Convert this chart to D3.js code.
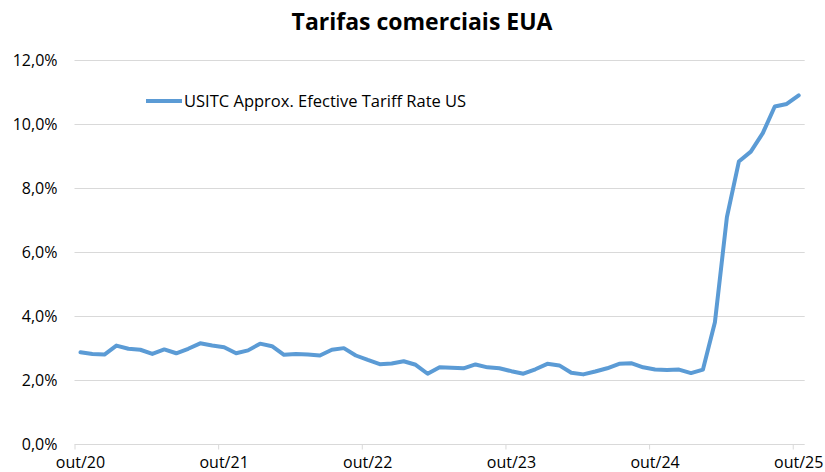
<!DOCTYPE html>
<html>
<head>
<meta charset="utf-8">
<script src="https://cdn.jsdelivr.net/npm/d3@7"></script>
<style>
  body { margin: 0; background: #fff; }
  svg text { font-family: "Open Sans", sans-serif; fill: #000; }
</style>
</head>
<body>
<svg id="chart" width="825" height="472"></svg>
<script>
// monthly values, out/20 .. out/25 (%)
var months = d3.range(61).map(function(i) { return new Date(2020, 9 + i, 1); });
var tariffRate = [
  2.85, 2.80, 2.78, 3.06, 2.96, 2.93, 2.80, 2.94, 2.82, 2.96, 3.13, 3.06,
  3.01, 2.82, 2.91, 3.12, 3.04, 2.77, 2.80, 2.78, 2.75, 2.93, 2.98, 2.75,
  2.61, 2.48, 2.50, 2.57, 2.46, 2.18, 2.38, 2.37, 2.35, 2.47, 2.38, 2.35,
  2.26, 2.18, 2.32, 2.49, 2.44, 2.21, 2.16, 2.25, 2.35, 2.49, 2.51, 2.38,
  2.31, 2.30, 2.31, 2.20, 2.31, 3.79, 7.07, 8.81, 9.12, 9.70, 10.53, 10.61,
  10.88
];
var tickLabels = ["out/20", "out/21", "out/22", "out/23", "out/24", "out/25"];
var yTicks = [0, 2, 4, 6, 8, 10, 12];
var seriesName = "USITC Approx. Efective Tariff Rate US";

var fmt = function(v) { return d3.format(".1f")(v).replace(".", ",") + "%"; };

var svg = d3.select("#chart");

// months as bands: point sits in the middle, tick on the left edge
var x = d3.scaleLinear().domain([0, months.length]).range([74.5, 804.7]);
var y = d3.scaleLinear().domain([0, 12]).range([443.5, 59.5]);

// gridlines
svg.append("g").selectAll("line")
  .data(yTicks.slice(1))
  .enter().append("line")
  .attr("x1", x(0)).attr("x2", x(months.length))
  .attr("y1", function(d) { return Math.round(y(d)) + 0.5; })
  .attr("y2", function(d) { return Math.round(y(d)) + 0.5; })
  .attr("stroke", "#d9d9d9").attr("stroke-width", 1);

// y labels
svg.append("g").selectAll("text")
  .data(yTicks)
  .enter().append("text")
  .attr("x", 57.5)
  .attr("y", function(d) { return y(d) + 6.5; })
  .attr("text-anchor", "end")
  .style("font-size", "16px")
  .text(fmt);

// x axis
var xAxis = d3.axisBottom(x)
  .tickValues([0, 12, 24, 36, 48, 60])
  .tickSize(5)
  .tickFormat("");
var gx = svg.append("g")
  .attr("transform", "translate(0," + (Math.round(y(0)) + 0.5) + ")")
  .call(xAxis);
gx.select(".domain").attr("stroke", "#d9d9d9").attr("d", "M" + x(0) + ",0H" + x(months.length));
gx.selectAll(".tick line").attr("stroke", "#d9d9d9");

svg.append("g").selectAll("text")
  .data(tickLabels)
  .enter().append("text")
  .attr("x", function(d, i) { return x(i * 12 + 0.5); })
  .attr("y", 468)
  .attr("text-anchor", "middle")
  .style("font-size", "16px")
  .text(function(d) { return d; });

// line
var line = d3.line()
  .x(function(d, i) { return x(i + 0.5); })
  .y(function(d) { return y(d); });

svg.append("path")
  .datum(tariffRate)
  .attr("d", line)
  .attr("fill", "none")
  .attr("stroke", "#5b9bd5")
  .attr("stroke-width", 4)
  .attr("stroke-linejoin", "round")
  .attr("stroke-linecap", "round");

// legend
svg.append("line")
  .attr("x1", 146).attr("x2", 182)
  .attr("y1", 101).attr("y2", 101)
  .attr("stroke", "#5b9bd5").attr("stroke-width", 4);
svg.append("text")
  .attr("x", 184)
  .attr("y", 106.5)
  .style("font-size", "16.5px")
  .text(seriesName);

// title
svg.append("text")
  .attr("x", 422)
  .attr("y", 30)
  .attr("text-anchor", "middle")
  .style("font-size", "23px")
  .style("font-weight", "bold")
  .text("Tarifas comerciais EUA");
</script>
</body>
</html>
